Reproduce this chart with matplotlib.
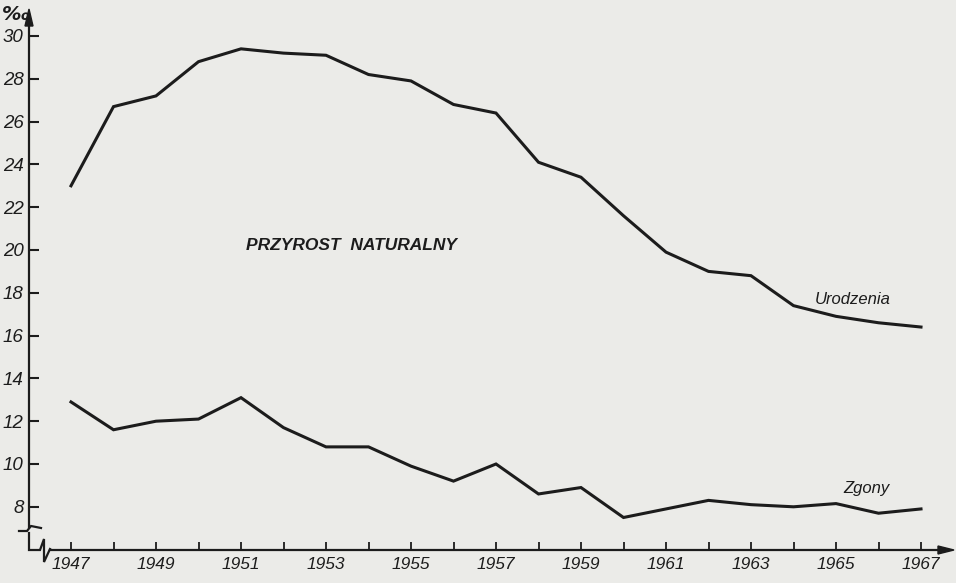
import matplotlib.pyplot as plt
import numpy as np
from matplotlib.patches import Polygon
from matplotlib.lines import Line2D

# data (per mille)
years = np.arange(1947, 1968)
urodzenia = [23.0, 26.7, 27.2, 28.8, 29.4, 29.2, 29.1, 28.2, 27.9, 26.8, 26.4,
             24.1, 23.4, 21.6, 19.9, 19.0, 18.8, 17.4, 16.9, 16.6, 16.4]
zgony = [12.9, 11.6, 12.0, 12.1, 13.1, 11.7, 10.8, 10.8, 9.9, 9.2, 10.0,
         8.6, 8.9, 7.5, 7.9, 8.3, 8.1, 8.0, 8.15, 7.7, 7.9]
y_ticks = list(range(8, 31, 2))
x_labels = list(range(1947, 1968, 2))

PAPER = "#ebebe8"
INK = "#1c1c1c"
FONT = "Liberation Sans"

W, H = 956, 583
# pixel layout of the drawing
L, R, T, B = 29, 946, 14, 550
X0, PX_YEAR = 71, 42.5      # pixel of 1947, pixels per year
Y30, PX_UNIT = 36, 21.4     # pixel of 30 per mille, pixels per unit


def fx(px):
    return px / W


def fy(py):
    return 1 - py / H


fig = plt.figure(figsize=(W / 100, H / 100), dpi=100, facecolor=PAPER)
ax = fig.add_axes([fx(L), fy(B), (R - L) / W, (B - T) / H])
ax.set_facecolor(PAPER)

ax.set_xlim(1947 + (L - X0) / PX_YEAR, 1947 + (R - X0) / PX_YEAR)
ax.set_ylim(30 - (B - Y30) / PX_UNIT, 30 + (Y30 - T) / PX_UNIT)

ax.plot(years, urodzenia, color=INK, lw=2.2, solid_joinstyle="miter")
ax.plot(years, zgony, color=INK, lw=2.2, solid_joinstyle="miter")

for s in ["top", "right"]:
    ax.spines[s].set_visible(False)
for s in ["left", "bottom"]:
    ax.spines[s].set_color(INK)
    ax.spines[s].set_linewidth(1.6)
ax.spines["left"].set_bounds(30 - (527 - Y30) / PX_UNIT, ax.get_ylim()[1])
ax.spines["bottom"].set_bounds(1947 + (50 - X0) / PX_YEAR, ax.get_xlim()[1])

ax.set_yticks(y_ticks)
ax.set_yticklabels([str(v) for v in y_ticks])
ax.set_xticks(years)
ax.set_xticklabels([str(y) if y in x_labels else "" for y in years])
ax.tick_params(axis="y", direction="in", length=7, width=1.5, pad=4,
               labelsize=13.5, colors=INK)
ax.tick_params(axis="x", direction="in", length=6, width=1.3, pad=5,
               labelsize=12.5, colors=INK)
for lab in ax.get_xticklabels() + ax.get_yticklabels():
    lab.set_fontstyle("italic")
    lab.set_family(FONT)

# axis breaks and arrows
def seg(pts, lw=1.6):
    xs = [fx(p[0]) for p in pts]
    ys = [fy(p[1]) for p in pts]
    fig.add_artist(Line2D(xs, ys, transform=fig.transFigure, color=INK,
                          lw=lw, solid_joinstyle="miter"))


seg([(19, 531), (27, 531), (31, 526), (41, 528)])
seg([(L, 533), (L, B), (40, B), (44, 539), (44, 562), (50, B - 1)])
fig.add_artist(Polygon([(fx(L), fy(9)), (fx(L - 4), fy(26)), (fx(L + 4), fy(26))],
                       closed=True, transform=fig.transFigure, color=INK))
fig.add_artist(Polygon([(fx(954), fy(B)), (fx(938), fy(B - 4)), (fx(938), fy(B + 4))],
                       closed=True, transform=fig.transFigure, color=INK))

fig.text(fx(16), fy(15), "‰", ha="center", va="center", fontsize=14,
         style="italic", weight="bold", color=INK, family="DejaVu Sans")
fig.text(fx(351), fy(245), "PRZYROST  NATURALNY", ha="center", va="center",
         fontsize=12.5, style="italic", weight="bold", color=INK, family=FONT)
fig.text(fx(853), fy(300), "Urodzenia", ha="center", va="center",
         fontsize=12, style="italic", color=INK, family=FONT)
fig.text(fx(866), fy(489), "Zgony", ha="center", va="center",
         fontsize=12, style="italic", color=INK, family=FONT)

fig.savefig("out.png", dpi=100, facecolor=PAPER)
